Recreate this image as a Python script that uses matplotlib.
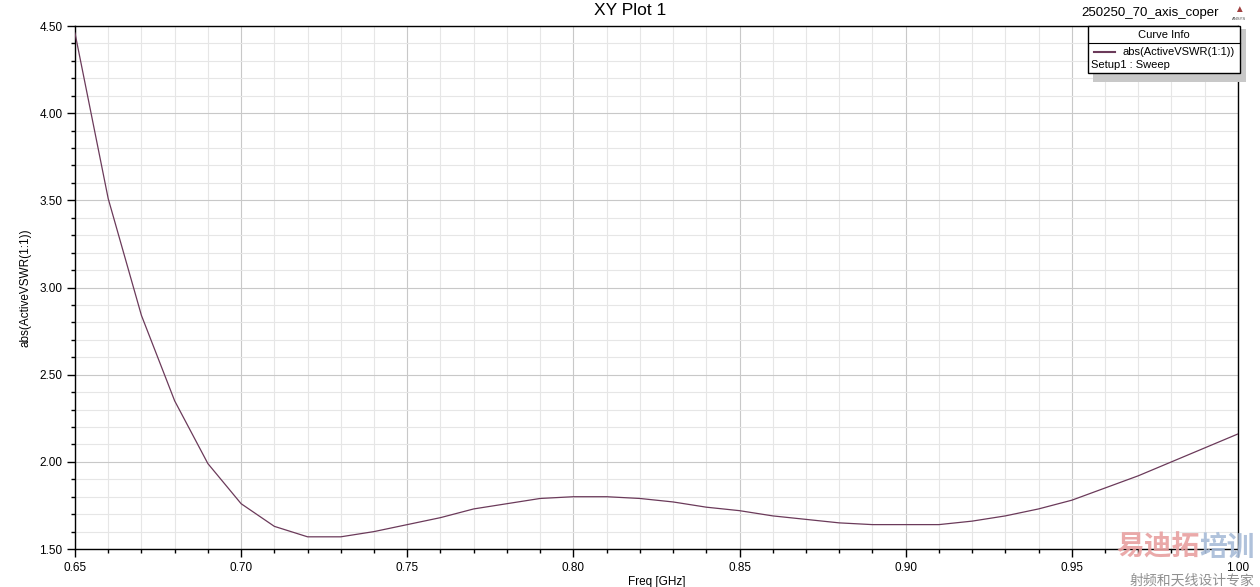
import matplotlib.pyplot as plt
import numpy as np
from matplotlib.ticker import MultipleLocator, FormatStrFormatter

plt.rcParams['font.family'] = ['Liberation Sans', 'DejaVu Sans']

freq = [0.65, 0.66, 0.67, 0.68, 0.69, 0.70, 0.71, 0.72, 0.73, 0.74,
        0.75, 0.76, 0.77, 0.78, 0.79, 0.80, 0.81, 0.82, 0.83, 0.84,
        0.85, 0.86, 0.87, 0.88, 0.89, 0.90, 0.91, 0.92, 0.93, 0.94,
        0.95, 0.96, 0.97, 0.98, 0.99, 1.00]
vswr = [4.46, 3.51, 2.84, 2.35, 1.99, 1.76, 1.63, 1.57, 1.57, 1.60,
        1.64, 1.68, 1.73, 1.76, 1.79, 1.80, 1.80, 1.79, 1.77, 1.74,
        1.72, 1.69, 1.67, 1.65, 1.64, 1.64, 1.64, 1.66, 1.69, 1.73,
        1.78, 1.85, 1.92, 2.00, 2.08, 2.16]

fig = plt.figure(figsize=(12.6, 5.87), dpi=100)
ax = fig.add_axes([0.0595, 0.0647, 0.923, 0.891])

ax.plot(freq, vswr, color='#6b3a5a', linewidth=0.9, zorder=3)

ax.set_xlim(0.65, 1.00)
ax.set_ylim(1.50, 4.50)
ax.xaxis.set_major_locator(MultipleLocator(0.05))
ax.xaxis.set_minor_locator(MultipleLocator(0.01))
ax.yaxis.set_major_locator(MultipleLocator(0.5))
ax.yaxis.set_minor_locator(MultipleLocator(0.1))
ax.xaxis.set_major_formatter(FormatStrFormatter('%.2f'))
ax.yaxis.set_major_formatter(FormatStrFormatter('%.2f'))

ax.grid(which='major', color='#c8c8c8', linewidth=0.8)
ax.grid(which='minor', color='#e6e6e6', linewidth=0.8)
ax.set_axisbelow(True)

ax.tick_params(which='major', direction='out', length=6, width=1, labelsize=8.5, pad=3)
ax.tick_params(which='minor', direction='out', length=3, width=1)
for s in ax.spines.values():
    s.set_linewidth(1.0)

ax.set_xlabel('Freq [GHz]', fontsize=8.5, labelpad=2)
ax.set_ylabel('abs(ActiveVSWR(1:1))', fontsize=8.5, labelpad=6)

fig.text(0.5, 0.982, 'XY Plot 1', ha='center', va='center', fontsize=12.5)
fig.text(0.913, 0.978, '250250_70_axis_coper', ha='center', va='center', fontsize=9.5)
fig.text(0.983, 0.985, '\u25b2', ha='center', va='center', fontsize=7, color='#a04040')
fig.text(0.983, 0.968, 'ANSYS', ha='center', va='center', fontsize=3, color='#404040')

# legend box with shadow
shadow = plt.Rectangle((0.8675, 0.861), 0.121, 0.089, transform=fig.transFigure,
                       facecolor='#c8c8c8', edgecolor='none', zorder=4)
box = plt.Rectangle((0.8635, 0.875), 0.121, 0.080, transform=fig.transFigure,
                    facecolor='white', edgecolor='black', linewidth=1.0, zorder=5)
fig.add_artist(shadow)
fig.add_artist(box)
fig.add_artist(plt.Line2D([0.8635, 0.9845], [0.926, 0.926], transform=fig.transFigure,
                          color='black', linewidth=0.8, zorder=6))
fig.text(0.924, 0.941, 'Curve Info', ha='center', va='center', fontsize=8, zorder=6)
fig.add_artist(plt.Line2D([0.868, 0.885], [0.912, 0.912], transform=fig.transFigure,
                          color='#6b3a5a', linewidth=1.5, zorder=6))
fig.text(0.8905, 0.912, 'abs(ActiveVSWR(1:1))', ha='left', va='center', fontsize=8, zorder=6)
fig.text(0.866, 0.889, 'Setup1 : Sweep', ha='left', va='center', fontsize=8, zorder=6)

# watermark
cjk = ['Noto Sans CJK SC', 'DejaVu Sans']
fig.text(0.9525, 0.067, '易迪拓', ha='right', va='center', fontsize=20, fontweight='heavy',
         color='#e8a0a0', family=cjk, alpha=0.9)
fig.text(0.996, 0.067, '培训', ha='right', va='center', fontsize=20, fontweight='heavy',
         color='#a8bcd8', family=cjk, alpha=0.9)
fig.text(0.996, 0.010, '射频和天线设计专家', ha='right', va='center', fontsize=10,
         color='#909090', family=cjk)

fig.savefig('out.png', dpi=100)
